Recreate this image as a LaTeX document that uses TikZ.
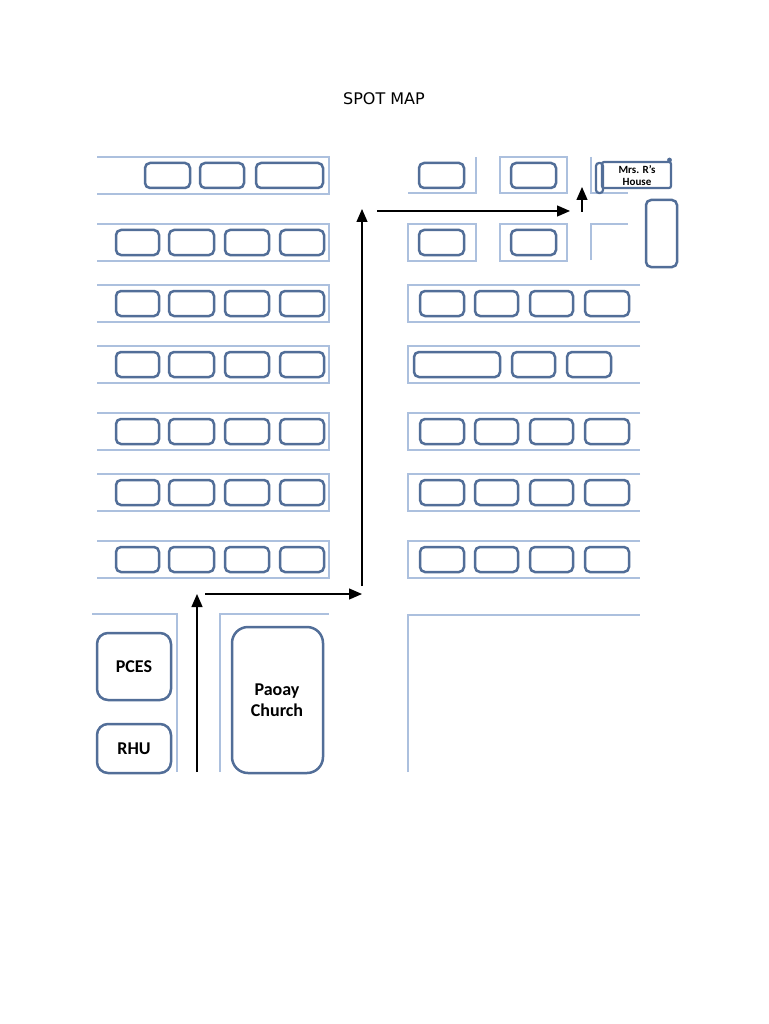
\documentclass[tikz,border=0pt]{standalone}
\usepackage{fontspec}
\setmainfont{Carlito}
\newfontfamily\titlefont{DejaVu Sans}
\usetikzlibrary{arrows.meta}
\definecolor{boxblue}{RGB}{82,110,152}
\definecolor{lineblue}{RGB}{172,192,222}
\begin{document}
\begin{tikzpicture}[x=1pt,y=-1pt,
  strip/.style={draw=lineblue,line width=1.2pt},
  bldg/.style={draw=boxblue,line width=2.5pt,rounded corners=5pt},
  bigbldg/.style={draw=boxblue,line width=2.5pt,rounded corners=11pt},
  arr/.style={-{Triangle[length=13pt,width=11pt]},line width=1.3pt,black},
  lbl/.style={font=\fontsize{18}{21}\selectfont\bfseries,align=center,inner sep=0pt}]
\useasboundingbox (0,0) rectangle (768,1024);
\fill[white] (0,0) rectangle (768,1024);

% title
\node[font=\titlefont\fontsize{16}{18}\selectfont,inner sep=0pt] (title) at (384,99) {SPOT MAP};

% left block strips
\foreach \t in {157,224,285,346,413,474,541}{
  \draw[strip] (97,\t) -- (329,\t) -- (329,\t+37) -- (97,\t+37);
}
% left row 1 boxes
\draw[bldg] (145,163) rectangle (190,188);
\draw[bldg] (200,163) rectangle (244,188);
\draw[bldg] (256,163) rectangle (323,188);
% left rows 2-7 boxes
\foreach \t in {224,285,346,413,474,541}{
  \foreach \a/\b in {116/159,169/214,225/269,280/324}{
    \draw[bldg] (\a,\t+6) rectangle (\b,\t+31);
  }
}

% right block rows 1-2
\draw[strip] (408,193) -- (476,193) -- (476,157);
\draw[strip] (500,157) rectangle (567,193);
\draw[strip] (591,157) -- (591,193) -- (628,193);
\draw[bldg] (419,163) rectangle (464,188);
\draw[bldg] (511,163) rectangle (556,188);

\draw[strip] (408,224) rectangle (476,261);
\draw[strip] (500,224) rectangle (567,261);
\draw[strip] (591,260) -- (591,224) -- (628,224);
\draw[bldg] (419,230) rectangle (464,255);
\draw[bldg] (511,230) rectangle (556,255);
\draw[bldg] (646,200) rectangle (677,267);

% Mrs. R's House (scroll)
\draw[draw=boxblue,line width=2.2pt,rounded corners=2pt] (602,162) rectangle (671,188);
\draw[draw=boxblue,line width=2.2pt,rounded corners=3pt] (596,163) rectangle (603,193);
\fill[boxblue] (669.5,160) circle (2.4pt);
\node[font=\fontsize{11}{13}\selectfont\bfseries,align=center,inner sep=0pt] (house) at (637,176) {Mrs. R's\\[-1pt]House};

% right block rows 3-7
\foreach \t in {285,346,413,474,541}{
  \draw[strip] (640,\t) -- (408,\t) -- (408,\t+37) -- (640,\t+37);
}
\foreach \t in {285,413,474,541}{
  \foreach \a/\b in {420/464,475/518,530/573,585/629}{
    \draw[bldg] (\a,\t+6) rectangle (\b,\t+31);
  }
}
\draw[bldg] (414,352) rectangle (500,377);
\draw[bldg] (512,352) rectangle (555,377);
\draw[bldg] (567,352) rectangle (611,377);

% bottom areas
\draw[strip] (92,614) -- (177,614) -- (177,772);
\draw[strip] (220,772) -- (220,614) -- (329,614);
\draw[strip] (408,772) -- (408,615) -- (640,615);

\draw[bigbldg] (97,633) rectangle (171,700);
\node[lbl] (pces) at (134,667) {PCES};
\draw[bigbldg] (97,724) rectangle (171,773);
\node[lbl] (rhu) at (134,749) {RHU};
\draw[bldg,rounded corners=16pt] (232,627) rectangle (323,773);
\node[lbl] (church) at (277,700) {Paoay\\Church};

% route arrows
\coordinate (p0) at (197,772);
\coordinate (p1) at (197,594);
\coordinate (q0) at (205,594);
\coordinate (q1) at (362,594);
\coordinate (r0) at (362,586);
\coordinate (r1) at (362,209);
\coordinate (s0) at (377,211);
\coordinate (s1) at (570,211);
\coordinate (t0) at (582,212);
\coordinate (t1) at (582,187);
\draw[arr] (p0) -- (p1);
\draw[arr] (q0) -- (q1);
\draw[arr] (r0) -- (r1);
\draw[arr] (s0) -- (s1);
\draw[arr] (t0) -- (t1);
\end{tikzpicture}
\end{document}
